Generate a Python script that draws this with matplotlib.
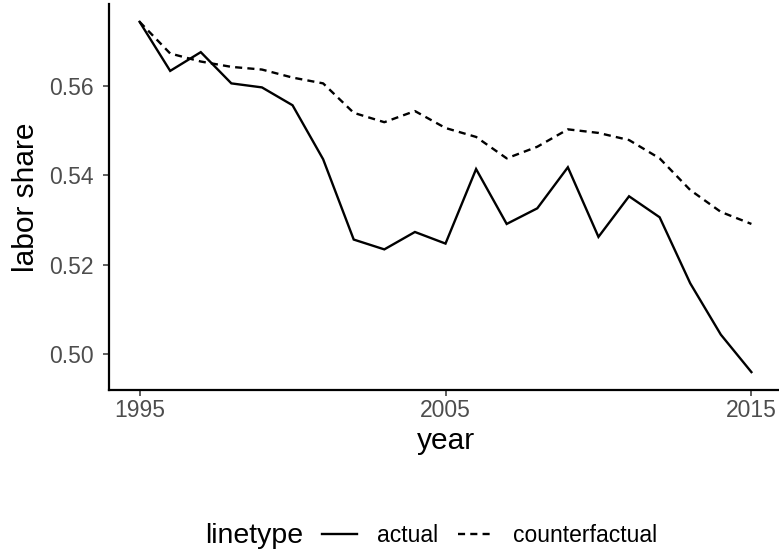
import numpy as np
import matplotlib
matplotlib.use("Agg")
import matplotlib.pyplot as plt
from matplotlib.lines import Line2D

plt.rcParams['font.family'] = ['Liberation Sans', 'DejaVu Sans']

# data
years = list(range(1995, 2016))
actual = [0.5744, 0.5634, 0.5676, 0.5606, 0.5597, 0.5557, 0.5436, 0.5256, 0.5234,
          0.5273, 0.5247, 0.5414, 0.5291, 0.5326, 0.5418, 0.5262, 0.5353, 0.5306,
          0.5158, 0.5043, 0.4959]
counterfactual = [0.5744, 0.5673, 0.5655, 0.5643, 0.5637, 0.5619, 0.5606, 0.5540,
                  0.5519, 0.5544, 0.5506, 0.5486, 0.5438, 0.5464, 0.5503, 0.5495,
                  0.5479, 0.5438, 0.5367, 0.5318, 0.5291]
xticks = [1995, 2005, 2015]
yticks = [0.50, 0.52, 0.54, 0.56]

W, H = 779, 559
fig = plt.figure(figsize=(W / 100, H / 100), dpi=100)
ax = fig.add_axes([109 / W, (H - 389.5) / H, 673 / W, 385.1 / H])

lw = 1.7
dash = (0, (3.0, 2.2))
ax.plot(years, actual, color='black', lw=lw, solid_joinstyle='miter')
ax.plot(years, counterfactual, color='black', lw=lw, linestyle=dash, dash_capstyle='butt')

ax.set_xlim(1994, 2016)
ax.set_ylim(0.4920, 0.5783)
ax.set_xticks(xticks)
ax.set_yticks(yticks)
ax.set_yticklabels([f"{v:.2f}" for v in yticks])

for s in ['top', 'right']:
    ax.spines[s].set_visible(False)
for s in ['left', 'bottom']:
    ax.spines[s].set_linewidth(1.6)
    ax.spines[s].set_color('black')
ax.tick_params(axis='both', length=4.5, width=1.1, color='#333333',
               labelcolor='#4D4D4D', labelsize=16.5)
ax.tick_params(axis='x', pad=2.5)
ax.tick_params(axis='y', pad=6.5)

ax.set_xlabel('year', fontsize=21.5, labelpad=3.5)
ax.set_ylabel('labor share', fontsize=21.5, labelpad=6.5)

# legend at bottom, title to the left
fig.text(205 / W, 1 - 536 / H, 'linetype', fontsize=20.5, va='center', ha='left')
handles = [Line2D([], [], color='black', lw=lw),
           Line2D([], [], color='black', lw=lw, linestyle=dash, dash_capstyle='butt')]
fig.legend(handles, ['actual', 'counterfactual'], ncol=2, frameon=False,
           loc='center left', bbox_to_anchor=(322 / W, 1 - 536 / H),
           borderaxespad=0, borderpad=0,
           fontsize=16.5, handlelength=1.53, handletextpad=0.87, columnspacing=0.87)

fig.savefig('out.png', dpi=100)
